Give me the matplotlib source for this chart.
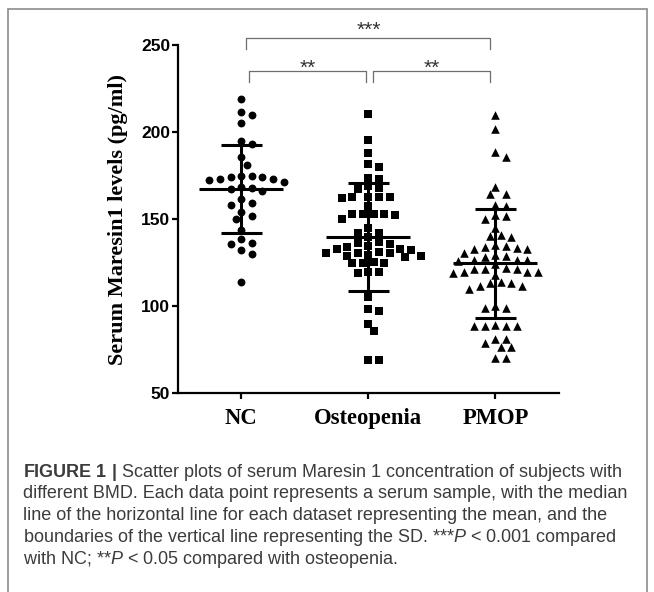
import numpy as np
import matplotlib
matplotlib.use('Agg')
import matplotlib.pyplot as plt
from matplotlib.patches import Rectangle

plt.rcParams['mathtext.fontset'] = 'custom'
plt.rcParams['mathtext.rm'] = 'Liberation Sans'
plt.rcParams['mathtext.it'] = 'Liberation Sans:italic'
plt.rcParams['mathtext.bf'] = 'Liberation Sans:bold'

# values (pg/ml)
groups = ['NC', 'Osteopenia', 'PMOP']

nc = [219.2, 211.5, 209.6, 205.2, 194.8, 193.3, 185.6, 181.2,
      174.6, 174.0, 171.5, 173.1, 172.7, 173.1, 174.0, 174.6,
      167.7, 166.3, 167.3, 168.3, 161.5, 159.2, 158.1, 154.2,
      151.9, 150.0, 143.8, 138.5, 136.5, 136.0, 132.3, 129.8, 113.8]

osteopenia = [210.6, 195.6, 187.9, 181.5, 180.0, 173.8, 173.2,
              168.8, 168.0, 167.5, 162.9, 162.7, 162.5, 162.3, 162.8,
              157.7, 153.2, 153.0, 152.8, 152.6, 153.1, 150.3, 145.2,
              142.2, 141.8, 139.5, 136.6, 136.2, 135.8, 134.5, 134.3,
              132.8, 132.5, 133.0, 130.9, 130.6, 130.4, 130.7,
              129.2, 128.8, 129.0, 128.5, 125.3, 125.0, 124.8, 124.6,
              119.8, 119.5, 119.3, 105.2, 98.5, 97.2, 90.0, 85.5,
              69.4, 69.1]

pmop = [209.6, 201.5, 188.5, 185.6, 168.3, 164.6, 164.2, 157.9, 157.5,
        152.5, 152.1, 150.0, 145.2, 141.0, 140.2, 139.8, 135.0, 134.5,
        134.3, 133.5, 133.0, 132.8, 130.8, 129.7, 128.6, 128.4, 126.7,
        126.5, 126.3, 126.1, 124.0, 121.8, 121.6, 121.4, 121.2, 119.8,
        119.6, 119.4, 119.2, 118.0, 113.7, 113.5, 113.3, 111.8, 111.4,
        110.0, 100.0, 99.2, 98.8, 89.0, 88.9, 88.8, 88.7, 88.6, 81.2,
        81.0, 78.9, 76.7, 76.5, 70.3, 70.1]

means = [167.3, 140.0, 124.6]
sds = [25.0, 31.0, 31.5]

# comparisons: (group a, group b, stars)
comparisons = [(0, 2, '***'), (0, 1, '**'), (1, 2, '**')]

markers = ['o', 's', '^']
sizes = [32, 30, 38]


def swarm(vals, ppu_y, ppu_x, step=10.6, d=8.6):
    # simple grid swarm, in pixels
    order = np.argsort(vals)[::-1]
    placed = []
    offs = np.zeros(len(vals))
    for i in order:
        y = vals[i] * ppu_y
        k = 0
        while True:
            cands = [0.0] if k == 0 else [k * step / 2, -k * step / 2]
            ok = None
            for c in cands:
                if all((c - px) ** 2 + (y - py) ** 2 >= d * d for px, py in placed):
                    ok = c
                    break
            if ok is not None:
                placed.append((ok, y))
                offs[i] = ok / ppu_x
                break
            k += 1
    return offs


fig = plt.figure(figsize=(6.54, 5.92), dpi=100)
ax = fig.add_axes([0.2717, 0.3356, 0.5830, 0.5884])
ax.set_xlim(-0.5, 2.5)
ax.set_ylim(50, 250)

ppu_y = 348.3 / 200
ppu_x = 127.0

data = [nc, osteopenia, pmop]
for i, vals in enumerate(data):
    vals = np.array(vals)
    x = i + swarm(vals, ppu_y, ppu_x)
    ax.scatter(x, vals, marker=markers[i], s=sizes[i], color='black',
               linewidths=0, zorder=3)
    m, s = means[i], sds[i]
    ax.plot([i - 0.33, i + 0.33], [m, m], color='black', lw=2.2, zorder=4,
            solid_capstyle='butt')
    ax.plot([i - 0.16, i + 0.16], [m + s, m + s], color='black', lw=2.2,
            zorder=4, solid_capstyle='butt')
    ax.plot([i - 0.16, i + 0.16], [m - s, m - s], color='black', lw=2.2,
            zorder=4, solid_capstyle='butt')
    ax.plot([i, i], [m - s, m + s], color='black', lw=2.2, zorder=4)

# significance brackets
for a, b, stars in comparisons:
    if b - a == 2:
        x0, x1, ytop, ybot, ytxt = a + 0.04, b - 0.04, 253.8, 247.5, 258.5
    else:
        x0 = a + 0.06 if a == 0 else a + 0.04
        x1 = b - 0.02 if b == 1 else b - 0.04
        ytop, ybot, ytxt = 235.0, 229.0, 236.5
    ax.plot([x0, x0, x1, x1], [ybot, ytop, ytop, ybot], color='#6e6e6e',
            lw=0.9, clip_on=False)
    ax.text((x0 + x1) / 2, ytxt, stars, ha='center', va='center',
            fontsize=15, family='Liberation Sans', color='#333333')

ax.spines['top'].set_visible(False)
ax.spines['right'].set_visible(False)
ax.spines['left'].set_linewidth(1.6)
ax.spines['bottom'].set_linewidth(1.6)
ax.set_yticks([50, 100, 150, 200, 250])
ax.set_xticks(range(3))
ax.set_xticklabels(groups, family='Liberation Serif', fontweight='bold',
                   fontsize=16.3)
for lab in ax.get_yticklabels():
    lab.set_family('Liberation Sans')
    lab.set_fontweight('bold')
    lab.set_fontsize(12.5)
ax.tick_params(axis='both', width=1.6, length=4.5, direction='out')
ax.tick_params(axis='x', pad=6)
ax.tick_params(axis='y', pad=1)
ax.set_ylabel('Serum Maresin1 levels (pg/ml)', family='Liberation Serif',
              fontweight='bold', fontsize=16, labelpad=9)

# figure caption
caption = [
    r'$\bf{FIGURE\ 1\ |}$ Scatter plots of serum Maresin 1 concentration of subjects with',
    'different BMD. Each data point represents a serum sample, with the median',
    'line of the horizontal line for each dataset representing the mean, and the',
    r'boundaries of the vertical line representing the SD. ***$P$ < 0.001 compared',
    r'with NC; **$P$ < 0.05 compared with osteopenia.',
]
for k, line in enumerate(caption):
    fig.text(22.7 / 654, 1 - (472.3 + k * 21.7) / 592, line, ha='left',
             va='center', fontsize=13, family='Liberation Sans',
             color='#3c3c3c')

fig.patches.append(Rectangle((7.7 / 654, -0.1), (646.5 - 7.7) / 654,
                             1.1 - 8.7 / 592, transform=fig.transFigure,
                             fill=False, edgecolor='#8c8c8c', lw=1.2))

fig.savefig('out.png', dpi=100)
